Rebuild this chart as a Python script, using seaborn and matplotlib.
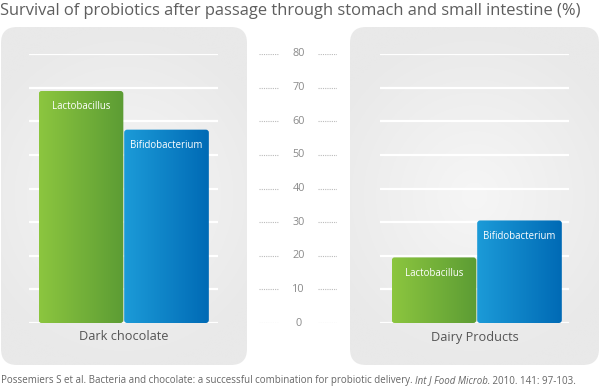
import numpy as np
import pandas as pd
import matplotlib
matplotlib.use("Agg")
import matplotlib.pyplot as plt
import seaborn as sns
from matplotlib.patches import FancyBboxPatch
from matplotlib.colors import LinearSegmentedColormap

# ---------------- data ----------------
title = "Survival of probiotics after passage through stomach and small intestine (%)"
products = ["Dark chocolate", "Dairy Products"]
strains = ["Lactobacillus", "Bifidobacterium"]
dark_chocolate = [69, 57.5]
dairy_products = [19.5, 30.5]
y_ticks = [0, 10, 20, 30, 40, 50, 60, 70, 80]
foot_plain = "Possemiers S et al. Bacteria and chocolate: a successful combination for probiotic delivery. "
foot_italic = "Int J Food Microb."
foot_end = " 2010. 141: 97-103."

# ---------------- style ----------------
sns.set_theme(style="white")
plt.rcParams["font.family"] = ["Open Sans", "DejaVu Sans"]

W, H = 600, 388
fig = plt.figure(figsize=(6, 3.88), dpi=100)
fig.patch.set_facecolor("white")

# background axes in pixel coordinates
bg = fig.add_axes([0, 0, 1, 1])
bg.set_xlim(0, W)
bg.set_ylim(H, 0)
bg.axis("off")

def radial():
    yy, xx = np.mgrid[-1:1:200j, -1:1:200j]
    return np.clip(np.sqrt(xx**2 * 0.6 + yy**2), 0, 1)

panel_cmap = LinearSegmentedColormap.from_list("pan", ["#f6f6f6", "#e9e9e9"])
for (x0, x1) in [(1, 247), (350, 599)]:
    y0, y1 = 27, 365
    p = FancyBboxPatch((x0, y0), x1 - x0, y1 - y0,
                       boxstyle="round,pad=0,rounding_size=16",
                       facecolor="none", edgecolor="none")
    bg.add_patch(p)
    im = bg.imshow(radial(), cmap=panel_cmap, vmin=0, vmax=1,
                   extent=(x0, x1, y1, y0), aspect="auto", zorder=0,
                   interpolation="bilinear")
    im.set_clip_path(p)

bg.text(0, 11, title, fontsize=11.9, color="#5e5e5e", ha="left", va="center")

# ---------------- bar axes ----------------
green = LinearSegmentedColormap.from_list("g", ["#8cc63f", "#5c9c34"])
blue = LinearSegmentedColormap.from_list("b", ["#1c9bd8", "#006ab5"])
grad = np.linspace(0, 1, 256).reshape(1, -1)

def bar_panel(rect, xlim, values, label):
    ax = fig.add_axes(rect)
    ax.set_facecolor("none")
    df = pd.DataFrame({"strain": strains, "value": values})
    sns.barplot(data=df, x="strain", y="value", hue="strain",
                palette=["#8cc63f", "#1c9bd8"], width=0.99, ax=ax,
                legend=False, saturation=1)
    ax.set_ylim(0, 80)
    ax.set_xlim(*xlim)
    for t in y_ticks:
        ax.axhline(t, color="white", lw=1.6, zorder=0)
    for sp in ax.spines.values():
        sp.set_visible(False)
    ax.set_xticks([]); ax.set_yticks([])
    ax.set_xlabel(""); ax.set_ylabel("")
    bars = list(ax.patches)
    for bar, cmap, name, v in zip(bars, [green, blue], strains, values):
        bx, bw = bar.get_x(), bar.get_width()
        bh = bar.get_height()
        bar.set_facecolor("none"); bar.set_edgecolor("none")
        clip = FancyBboxPatch((bx, 0), bw, bh,
                              boxstyle="round,pad=0,rounding_size=0.035",
                              mutation_aspect=25, facecolor="none",
                              edgecolor="none", transform=ax.transData)
        ax.add_patch(clip)
        im = ax.imshow(grad, cmap=cmap, extent=(bx, bx + bw, 0, bh),
                       aspect="auto", zorder=2)
        im.set_clip_path(clip)
        ax.annotate(name, (bx + bw / 2, bh), xytext=(0, -11.5),
                    textcoords="offset points", ha="center", va="center",
                    color="white", fontsize=6.9, zorder=3)
    ax.text(0.5, -14 / 269, label, transform=ax.transAxes, ha="center",
            va="center", fontsize=9.2, color="#555555")
    return ax

bottom = (H - 323) / H
height = 269 / H
bar_panel([29 / W, bottom, 189 / W, height], (-0.608, 1.602), dark_chocolate, products[0])
bar_panel([380 / W, bottom, 189 / W, height], (-0.632, 1.579), dairy_products, products[1])

# ---------------- central scale ----------------
cax = fig.add_axes([259 / W, bottom, 78 / W, height])
cax.set_facecolor("none")
cax.set_ylim(0, 80)
cax.set_xlim(0, 78)
cax.axis("off")
for t in y_ticks:
    cax.hlines(t, 0, 20, color="#bbbbbb", lw=0.8, linestyles=(0, (1, 1)))
    cax.hlines(t, 59, 78, color="#bbbbbb", lw=0.8, linestyles=(0, (1, 1)))
    cax.text(39.5, t, str(t), ha="center", va="center", fontsize=7.8, color="#8a8a8a")

# ---------------- footnote ----------------
fig.canvas.draw()
r = fig.canvas.get_renderer()
fs = 7.0
t1 = bg.text(1, 381, foot_plain, fontsize=fs, color="#666666", ha="left", va="center")
e1 = t1.get_window_extent(r)
t2 = bg.text(e1.x1, 381, foot_italic, fontsize=fs, color="#666666", ha="left",
             va="center", style="italic")
e2 = t2.get_window_extent(r)
bg.text(e2.x1, 381, foot_end, fontsize=fs, color="#666666", ha="left", va="center")

fig.savefig("out.png", dpi=100, facecolor="white")
